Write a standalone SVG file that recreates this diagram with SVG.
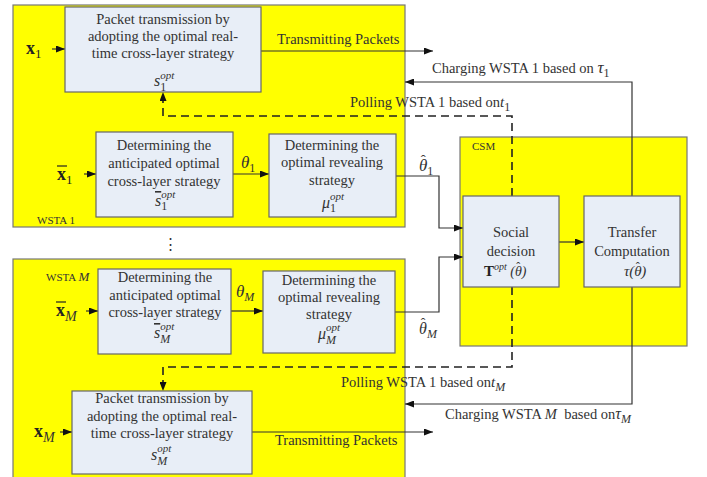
<svg xmlns="http://www.w3.org/2000/svg" width="707" height="477" viewBox="0 0 707 477">
<style>
.cont{fill:#ffff00;stroke:#777;stroke-width:1.2}
.box{fill:#e8eef7;stroke:#666;stroke-width:1.2}
.t{font-family:"Liberation Serif","Times New Roman",serif;font-size:14.5px;fill:#333;text-anchor:middle}
.l{font-family:"Liberation Serif","Times New Roman",serif;font-size:14.5px;fill:#333}
.sm{font-family:"Liberation Serif","Times New Roman",serif;font-size:11px;fill:#333}
.m{font-family:"Liberation Serif","DejaVu Serif",serif;font-style:italic;fill:#333}
.b{font-family:"Liberation Serif",serif;font-weight:bold;fill:#222}
.ln{fill:none;stroke:#333;stroke-width:1.2}
.ov{stroke:#222;stroke-width:1.2}
.dash{fill:none;stroke:#222;stroke-width:1.6;stroke-dasharray:8 5}
</style>
<defs>
<marker id="ah" markerUnits="userSpaceOnUse" markerWidth="9" markerHeight="7" refX="9" refY="3.5" orient="auto">
<path d="M0,0 L9,3.5 L0,7 z" fill="#111"/>
</marker>
</defs>
<rect width="707" height="477" fill="#fff"/>
<g id="wsta1"><rect class="cont" x="13" y="5" width="392" height="222"/><text class="sm" x="37" y="224">WSTA 1</text></g>
<g id="wstaM"><rect class="cont" x="13" y="259" width="392" height="220"/><text class="sm" x="46" y="281">WSTA <tspan class="m" font-size="13">M</tspan></text></g>
<g id="csm"><rect class="cont" x="460" y="137" width="227" height="209"/><text class="sm" x="472" y="150">CSM</text></g>
<g id="dots"><text class="t" x="170" y="249" font-size="14">⋮</text></g>
<g id="connectors">
<line class="ln" x1="52" y1="49" x2="65" y2="49" marker-end="url(#ah)"/>
<line class="ln" x1="84" y1="174" x2="96" y2="174" marker-end="url(#ah)"/>
<line class="ln" x1="233" y1="174" x2="269" y2="174" marker-end="url(#ah)"/>
<line class="ln" x1="261" y1="51" x2="433" y2="51" marker-end="url(#ah)"/>
<polyline class="ln" points="396,176 439,176 439,228 463,228" marker-end="url(#ah)"/>
<polyline class="dash" points="512,196 512,116 163,116 163,92" marker-end="url(#ah)"/>
<polyline class="ln" points="632,196 632,82 405,82" marker-end="url(#ah)"/>
<line class="ln" x1="559" y1="242" x2="584" y2="242" marker-end="url(#ah)"/>
<polyline class="ln" points="395,312 439,312 439,257 463,257" marker-end="url(#ah)"/>
<polyline class="dash" points="512,287 512,367 163,367 163,391" marker-end="url(#ah)"/>
<polyline class="ln" points="632,287 632,404 405,404" marker-end="url(#ah)"/>
<line class="ln" x1="86" y1="311" x2="98" y2="311" marker-end="url(#ah)"/>
<line class="ln" x1="231" y1="311" x2="263" y2="311" marker-end="url(#ah)"/>
<line class="ln" x1="60" y1="432" x2="72" y2="432" marker-end="url(#ah)"/>
<line class="ln" x1="252" y1="432" x2="433" y2="432" marker-end="url(#ah)"/>
<text class="l" x="277" y="44">Transmitting Packets</text>
<text class="l" x="275" y="445">Transmitting Packets</text>
<text class="l" x="432" y="73">Charging WSTA 1 based on <tspan class="m" font-size="17">τ</tspan><tspan font-size="12" dy="4">1</tspan></text>
<text class="l" x="350" y="107">Polling WSTA 1 based on<tspan class="m" font-size="15">t</tspan><tspan font-size="12" dy="4">1</tspan></text>
<text class="l" x="341" y="387">Polling WSTA 1 based on<tspan class="m" font-size="15">t</tspan><tspan class="m" font-size="12" dy="4">M</tspan></text>
<text class="l" x="445" y="419">Charging WSTA <tspan class="m">M</tspan>&#160;&#160;based on<tspan class="m" font-size="16">τ</tspan><tspan class="m" font-size="12" dy="4">M</tspan></text>
<text class="m" x="241" y="168" font-size="17">θ<tspan font-size="12" dy="4" style="font-style:normal">1</tspan></text>
<text class="m" x="236" y="297" font-size="17">θ<tspan font-size="12" dy="4">M</tspan></text>
<text class="m" x="419" y="171" font-size="17">θ<tspan font-size="15" dx="-6.5" dy="-6" style="font-style:normal">ˆ</tspan><tspan font-size="12" dx="1.5" dy="10" style="font-style:normal">1</tspan></text>
<text class="m" x="419" y="334" font-size="16">θ<tspan font-size="14" dx="-6" dy="-6" style="font-style:normal">ˆ</tspan><tspan font-size="12" dx="1.5" dy="10">M</tspan></text>
<text class="b" x="26" y="54" font-size="18">x<tspan font-size="13" font-weight="normal" dy="4">1</tspan></text>
<text class="b" x="57" y="180" font-size="18">x<tspan font-size="13" font-weight="normal" dy="4">1</tspan></text>
<line class="ov" x1="57" y1="166" x2="67" y2="166"/>
<text class="b" x="56" y="316" font-size="18">x<tspan class="m" font-size="14" font-weight="normal" dy="5">M</tspan></text>
<line class="ov" x1="56" y1="302" x2="66" y2="302"/>
<text class="b" x="34" y="437" font-size="18">x<tspan class="m" font-size="14" font-weight="normal" dy="5">M</tspan></text>
</g>
<g id="packet1"><rect class="box" x="65" y="7" width="196" height="85"/>
<text class="t" x="163" y="24">Packet transmission by</text><text class="t" x="163" y="41">adopting the optimal real-</text><text class="t" x="163" y="58">time cross-layer strategy</text>
<text class="m" x="154" y="86" font-size="16">s<tspan font-size="12" dy="5" style="font-style:normal">1</tspan><tspan font-size="11" dx="-6" dy="-12">opt</tspan></text></g>
<g id="antic1"><rect class="box" x="96" y="132" width="137" height="85"/>
<text class="t" x="164" y="150">Determining the</text><text class="t" x="164" y="168">anticipated optimal</text><text class="t" x="164" y="186">cross-layer strategy</text>
<text class="m" x="155" y="206" font-size="16"><tspan text-decoration="overline">s</tspan><tspan font-size="12" dy="4" style="font-style:normal">1</tspan><tspan font-size="11" dx="-6" dy="-12">opt</tspan></text></g>
<g id="reveal1"><rect class="box" x="269" y="134" width="127" height="83"/>
<text class="t" x="332" y="150">Determining the</text><text class="t" x="332" y="167">optimal revealing</text><text class="t" x="332" y="185">strategy</text>
<text class="m" x="322" y="208" font-size="16">μ<tspan font-size="12" dy="4" style="font-style:normal">1</tspan><tspan font-size="11" dx="-6" dy="-12">opt</tspan></text></g>
<g id="anticM"><rect class="box" x="98" y="269" width="133" height="85"/>
<text class="t" x="165" y="282">Determining the</text><text class="t" x="165" y="300">anticipated optimal</text><text class="t" x="165" y="317">cross-layer strategy</text>
<text class="m" x="154" y="338" font-size="16"><tspan text-decoration="overline">s</tspan><tspan font-size="12" dy="5">M</tspan><tspan font-size="11" dx="-10" dy="-13">opt</tspan></text></g>
<g id="revealM"><rect class="box" x="263" y="271" width="132" height="82"/>
<text class="t" x="329" y="285">Determining the</text><text class="t" x="329" y="302">optimal revealing</text><text class="t" x="329" y="319">strategy</text>
<text class="m" x="318" y="339" font-size="16">μ<tspan font-size="12" dy="5">M</tspan><tspan font-size="11" dx="-10" dy="-13">opt</tspan></text></g>
<g id="packetM"><rect class="box" x="72" y="391" width="180" height="83"/>
<text class="t" x="162" y="403">Packet transmission by</text><text class="t" x="162" y="421">adopting the optimal real-</text><text class="t" x="162" y="438">time cross-layer strategy</text>
<text class="m" x="151" y="460" font-size="16">s<tspan font-size="12" dy="5">M</tspan><tspan font-size="11" dx="-10" dy="-13">opt</tspan></text></g>
<g id="social"><rect class="box" x="463" y="196" width="96" height="91"/>
<text class="t" x="511" y="237">Social</text><text class="t" x="511" y="256">decision</text>
<text class="l" x="484" y="276"><tspan class="b" font-size="15">T</tspan><tspan class="m" font-size="10" dy="-6">opt</tspan><tspan class="m" font-size="14" dy="6"> (θ</tspan><tspan font-size="12" dx="-5.5" dy="-5">ˆ</tspan><tspan class="m" font-size="14" dx="1.5" dy="5">)</tspan></text></g>
<g id="transfer"><rect class="box" x="584" y="196" width="96" height="91"/>
<text class="m" x="624" y="276" font-size="15">τ(θ<tspan font-size="12" dx="-6" dy="-5" style="font-style:normal">ˆ</tspan><tspan dx="1.5" dy="5">)</tspan></text>
<text class="t" x="632" y="237">Transfer</text><text class="t" x="632" y="256">Computation</text></g>
</svg>
